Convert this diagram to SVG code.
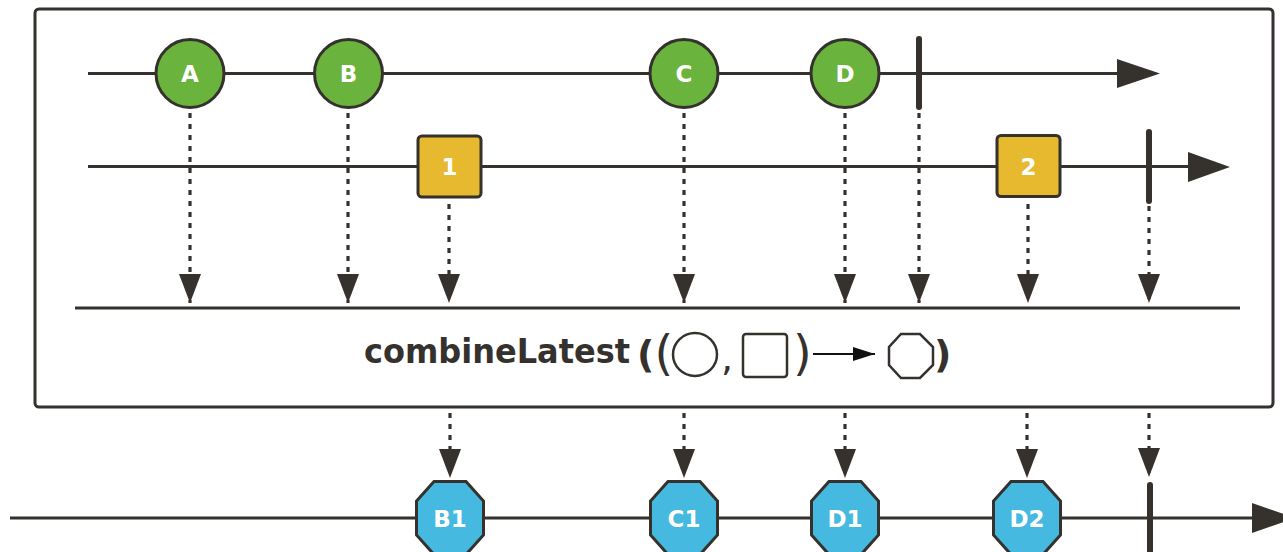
<svg xmlns="http://www.w3.org/2000/svg" width="1283" height="552" viewBox="0 0 1283 552">
<defs>
<style>
.ln{stroke:#35312d;stroke-width:3;fill:none}
.dot{stroke:#35312d;stroke-width:3.2;fill:none;stroke-dasharray:5 6}
.bar{stroke:#35312d;stroke-width:6;stroke-linecap:round}
.head{fill:#35312d}
.circ{fill:#6ab33c;stroke:#35312d;stroke-width:3}
.sq{fill:#e6b92f;stroke:#35312d;stroke-width:3}
.oct{fill:#45b9df;stroke:#35312d;stroke-width:3}
.lbl{font-family:"DejaVu Sans","Liberation Sans",sans-serif;font-weight:bold;font-size:23px;fill:#ffffff;text-anchor:middle}
.op{font-family:"DejaVu Sans","Liberation Sans",sans-serif;font-weight:bold;font-size:33px;fill:#35312d}
.bp{font-family:"DejaVu Sans","Liberation Sans",sans-serif;font-weight:bold;font-size:38px;fill:#35312d}
.thin{font-family:"DejaVu Sans","Liberation Sans",sans-serif;font-weight:normal;font-size:48px;fill:#35312d}
.cm{font-family:"DejaVu Sans","Liberation Sans",sans-serif;font-weight:normal;font-size:38px;fill:#35312d}
.sym{fill:#ffffff;stroke:#35312d;stroke-width:2.5}
</style>
<marker id="ah" viewBox="0 0 29 22" refX="29" refY="11" markerWidth="29" markerHeight="22" markerUnits="userSpaceOnUse" orient="auto">
<path d="M0,0 L29,11 L0,22 Z" fill="#35312d"/>
</marker>
<marker id="sa" viewBox="0 0 22 14" refX="22" refY="7" markerWidth="22" markerHeight="14" markerUnits="userSpaceOnUse" orient="auto">
<path d="M0,0 L22,7 L0,14 Z" fill="#111111"/>
</marker>
</defs>

<g id="operator-box">
<rect x="35" y="9" width="1238" height="398" rx="4" fill="#ffffff" stroke="#35312d" stroke-width="3"/>
<line class="ln" x1="75" y1="308" x2="1240" y2="308"/>
<text class="op" x="364" y="363" textLength="266" lengthAdjust="spacingAndGlyphs">combineLatest</text>
<text x="637" y="367"><tspan class="bp">(</tspan><tspan class="thin" y="370">(</tspan></text>
<ellipse class="sym" cx="695" cy="354.5" rx="22" ry="21.5"/>
<text class="cm" x="721" y="371">,</text>
<rect class="sym" x="743" y="334" width="44" height="43" rx="3"/>
<text class="thin" x="793" y="370">)</text>
<line x1="813" y1="354" x2="875" y2="354" stroke="#111111" stroke-width="2" marker-end="url(#sa)"/>
<polygon class="sym" points="901,334 920,334 933,347 933,365 920,378 901,378 889,365 889,347"/>
<text class="bp" x="934" y="367">)</text>
</g>

<g id="timeline-top">
<line class="ln" x1="88" y1="73.5" x2="1120" y2="73.5"/>
<path class="head" d="M1117,59 L1160,73.5 L1117,88 Z"/>
<line class="bar" x1="919" y1="39" x2="919" y2="107"/>
</g>

<g id="timeline-middle">
<line class="ln" x1="88" y1="166.5" x2="1190" y2="166.5"/>
<path class="head" d="M1188,152 L1230,167 L1188,182 Z"/>
<line class="bar" x1="1149" y1="132" x2="1149" y2="201"/>
</g>

<g id="timeline-output">
<line class="ln" x1="10" y1="518" x2="1255" y2="518"/>
<path class="head" d="M1252,503 L1295,518 L1252,533 Z"/>
<line class="bar" x1="1150" y1="485" x2="1150" y2="560"/>
</g>

<g id="connectors">
<line class="dot" x1="190" y1="113" x2="190" y2="303" marker-end="url(#ah)"/>
<line class="dot" x1="348" y1="113" x2="348" y2="303" marker-end="url(#ah)"/>
<line class="dot" x1="449" y1="204" x2="449" y2="303" marker-end="url(#ah)"/>
<line class="dot" x1="684" y1="113" x2="684" y2="303" marker-end="url(#ah)"/>
<line class="dot" x1="845" y1="113" x2="845" y2="303" marker-end="url(#ah)"/>
<line class="dot" x1="919" y1="113" x2="919" y2="303" marker-end="url(#ah)"/>
<line class="dot" x1="1028" y1="204" x2="1028" y2="303" marker-end="url(#ah)"/>
<line class="dot" x1="1149" y1="206" x2="1149" y2="303" marker-end="url(#ah)"/>
<line class="dot" x1="450" y1="413" x2="450" y2="478" marker-end="url(#ah)"/>
<line class="dot" x1="684" y1="413" x2="684" y2="478" marker-end="url(#ah)"/>
<line class="dot" x1="845" y1="413" x2="845" y2="478" marker-end="url(#ah)"/>
<line class="dot" x1="1027" y1="413" x2="1027" y2="478" marker-end="url(#ah)"/>
<line class="dot" x1="1149" y1="413" x2="1149" y2="477" marker-end="url(#ah)"/>
</g>

<g id="node-A"><circle class="circ" cx="190" cy="73.5" r="34"/><text class="lbl" x="190" y="82">A</text></g>
<g id="node-B"><circle class="circ" cx="348.5" cy="73.5" r="34"/><text class="lbl" x="348.5" y="82">B</text></g>
<g id="node-C"><circle class="circ" cx="684" cy="73.5" r="34"/><text class="lbl" x="684" y="82">C</text></g>
<g id="node-D"><circle class="circ" cx="845" cy="73.5" r="34"/><text class="lbl" x="845" y="82">D</text></g>

<g id="node-1"><rect class="sq" x="418" y="136" width="63" height="61" rx="4"/><text class="lbl" x="449.5" y="175">1</text></g>
<g id="node-2"><rect class="sq" x="997" y="135.5" width="63" height="61" rx="4"/><text class="lbl" x="1028.5" y="174.5">2</text></g>

<g id="node-B1"><polygon class="oct" points="434,481.5 466,481.5 483.5,501 483.5,535 466,554.5 434,554.5 416.5,535 416.5,501"/><text class="lbl" x="450" y="526.5">B1</text></g>
<g id="node-C1"><polygon class="oct" points="668,481.5 700,481.5 717.5,501 717.5,535 700,554.5 668,554.5 650.5,535 650.5,501"/><text class="lbl" x="684" y="526.5">C1</text></g>
<g id="node-D1"><polygon class="oct" points="829,481.5 861,481.5 878.5,501 878.5,535 861,554.5 829,554.5 811.5,535 811.5,501"/><text class="lbl" x="845" y="526.5">D1</text></g>
<g id="node-D2"><polygon class="oct" points="1011,481.5 1043,481.5 1060.5,501 1060.5,535 1043,554.5 1011,554.5 993.5,535 993.5,501"/><text class="lbl" x="1027" y="526.5">D2</text></g>
</svg>
